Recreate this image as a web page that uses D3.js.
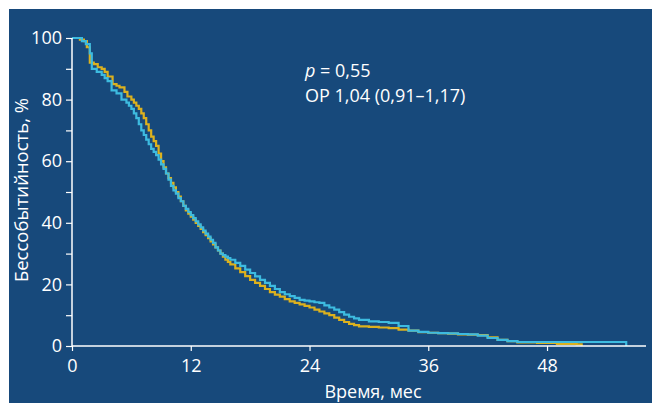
<!DOCTYPE html>
<html>
<head>
<meta charset="utf-8">
<script src="https://cdn.jsdelivr.net/npm/d3@7"></script>
<style>
  body { margin: 0; background: #fff; }
  svg { display: block; }
  text { font-family: "Open Sans", "Noto Sans", sans-serif; fill: #fff; }
</style>
</head>
<body>
<svg></svg>
<script>
const W = 652, H = 403;

// yellow curve (time in months, % event-free)
const yellowT = [0, 0.5, 0.8, 1.2, 1.5, 1.8, 2.2, 2.6, 3.0, 3.3, 3.6, 4.1, 4.5, 4.8, 5.3, 5.6, 6.0, 6.25, 6.5, 6.75, 7.0, 7.25, 7.5, 7.75, 8.0, 8.25, 8.5, 8.75, 9.0, 9.25, 9.5, 9.75, 10.0, 10.25, 10.5, 10.75, 11.0, 11.25, 11.5, 11.75, 12.0, 12.25, 12.5, 12.75, 13.0, 13.25, 13.5, 13.75, 14.0, 14.25, 14.5, 14.75, 15.0, 15.25, 15.5, 15.75, 16, 16.5, 17, 17.5, 18, 18.5, 19, 19.5, 20, 20.5, 21, 21.5, 22, 22.5, 23, 23.5, 24, 24.5, 25, 25.5, 26, 26.5, 27, 27.5, 28, 28.5, 29, 30, 31, 32, 33, 34, 35, 36, 37, 38, 39, 40, 41, 42, 43, 44, 45, 47, 49, 51, 51.5];
const yellowS = [100, 100, 99.5, 99, 97, 92, 91.5, 90.5, 90, 89, 87.5, 85, 84.5, 84, 82.5, 81, 80, 79, 78, 77, 75.5, 74, 72, 70, 68, 66.5, 65, 62.5, 60, 58, 56, 54.5, 53, 51.5, 50, 48.5, 47, 45.5, 44, 43, 42, 41, 40, 39, 38, 37, 36, 35, 34, 33, 32, 31, 30, 29, 28, 27.3, 26.5, 25.2, 24, 22.7, 21.5, 20.5, 19.5, 18.5, 17.5, 16.7, 16, 15.2, 14.5, 14, 13.5, 13, 12.5, 11.8, 11.2, 10.6, 10, 9.2, 8.5, 7.8, 7.2, 6.8, 6.4, 6.2, 6, 5.8, 5.3, 5, 4.5, 4.3, 4.2, 4, 3.8, 3.7, 3.5, 2.8, 2, 1.6, 1.2, 1, 0.7, 0.5, 0];

// cyan curve
const cyanT = [0, 0.5, 1.0, 1.4, 1.8, 2.0, 2.5, 3.0, 3.3, 3.6, 4.0, 4.5, 5.0, 5.5, 5.75, 6.0, 6.25, 6.5, 6.75, 7.0, 7.25, 7.5, 7.75, 8.0, 8.25, 8.5, 8.75, 9.0, 9.25, 9.5, 9.75, 10.0, 10.25, 10.5, 10.75, 11.0, 11.25, 11.5, 11.75, 12.0, 12.25, 12.5, 12.75, 13.0, 13.25, 13.5, 13.75, 14.0, 14.25, 14.5, 14.75, 15.0, 15.25, 15.5, 15.75, 16, 16.5, 17, 17.5, 18, 18.5, 19, 19.5, 20, 20.5, 21, 21.5, 22, 22.5, 23, 23.5, 24, 24.5, 25, 25.5, 26, 26.5, 27, 27.5, 28, 28.5, 29, 30, 31, 32, 33, 34, 35, 36, 37, 38, 39, 40, 41, 42, 43, 44, 45, 50, 55.5, 56];
const cyanS = [100, 100, 99, 98, 95, 90, 89, 88, 87, 86, 83, 82, 80, 79, 78, 77, 75.5, 74, 72, 70, 68.5, 67, 65.5, 64, 63, 62, 60.5, 59, 57.5, 56, 54, 52, 50.5, 49.5, 48, 47, 45.5, 44.5, 43.5, 42.5, 41.5, 40.5, 39.5, 38.5, 37.5, 36.5, 35.5, 34.5, 33.5, 32, 31, 30, 29.5, 29, 28.5, 28, 27, 26, 24.8, 23.7, 22.6, 21.5, 20.5, 19.5, 18.5, 17.5, 16.8, 16.2, 15.6, 15, 14.7, 14.5, 14.2, 14, 13.2, 12.5, 11.8, 11, 10.2, 9.5, 9, 8.5, 8, 7.8, 7.5, 6.5, 5, 4.6, 4.3, 4.2, 4.1, 3.9, 3.8, 3.4, 2.6, 2, 1.6, 1.3, 1.3, 1.3, 0];

const xTicks = [0, 12, 24, 36, 48];
const yTicks = [0, 10, 20, 30, 40, 50, 60, 70, 80, 90, 100];
const yLabels = [0, 20, 40, 60, 80, 100];

const svg = d3.select('svg').attr('width', W).attr('height', H);

svg.append('rect')
    .attr('x', 9).attr('y', 9)
    .attr('width', W - 9).attr('height', H - 9)
    .attr('fill', '#17497b');

const x = d3.scaleLinear().domain([0, 58]).range([72, 646]);
const y = d3.scaleLinear().domain([0, 100]).range([346, 38]);

// curves
const line = d3.line()
    .x(d => x(d[0]))
    .y(d => y(d[1]))
    .curve(d3.curveStepAfter);

const series = [
    {t: yellowT, s: yellowS, color: '#dcb11e'},
    {t: cyanT, s: cyanS, color: '#3dbbe0'}
];
series.forEach(sr => {
    svg.append('path')
        .datum(sr.t.map((t, i) => [t, sr.s[i]]))
        .attr('fill', 'none')
        .attr('stroke', sr.color)
        .attr('stroke-width', 2.2)
        .attr('d', line);
});

// y axis
const yAxis = svg.append('g')
    .attr('transform', `translate(${x(0)},0)`)
    .call(d3.axisLeft(y).tickValues(yTicks).tickSize(6).tickPadding(4)
        .tickFormat(d => yLabels.includes(d) ? d : ''));

// x axis
const xAxis = svg.append('g')
    .attr('transform', `translate(0,${y(0)})`)
    .call(d3.axisBottom(x).tickValues(xTicks).tickSize(5).tickPadding(8));

[xAxis, yAxis].forEach(g => {
    g.select('.domain').attr('stroke', '#fff').attr('stroke-width', 1.5);
    g.selectAll('.tick line').attr('stroke', '#fff').attr('stroke-width', 1.2);
    g.selectAll('.tick text').attr('fill', '#fff')
        .style('font-size', '18px')
        .style('font-family', '"Open Sans", sans-serif');
});
xAxis.select('.domain').attr('d', `M${x(0)},0H646`);
yAxis.select('.domain').attr('d', `M0,${y(0)}V${y(100)}`);

// axis titles
svg.append('text')
    .attr('x', 373).attr('y', 398)
    .attr('text-anchor', 'middle')
    .style('font-size', '18px')
    .text('Время, мес');

svg.append('text')
    .attr('transform', 'translate(28,190) rotate(-90)')
    .attr('text-anchor', 'middle')
    .style('font-size', '18.5px')
    .text('Бессобытийность, %');

// annotation
const ann = svg.append('text')
    .attr('x', 305).attr('y', 77)
    .style('font-size', '18px');
ann.append('tspan').style('font-style', 'italic').text('p');
ann.append('tspan').text(' = 0,55');
svg.append('text')
    .attr('x', 305).attr('y', 102)
    .style('font-size', '18px')
    .text('OP 1,04 (0,91–1,17)');
</script>
</body>
</html>
